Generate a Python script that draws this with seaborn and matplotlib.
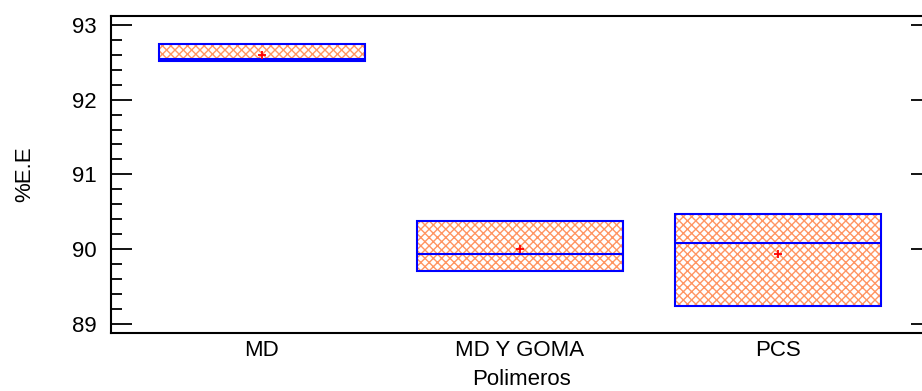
import numpy as np
import pandas as pd
import matplotlib
matplotlib.use("Agg")
import matplotlib.pyplot as plt
from matplotlib.patches import PathPatch
from matplotlib.ticker import MultipleLocator
import seaborn as sns

# ---- data ----
categories = ["MD", "MD Y GOMA", "PCS"]
box_low = [92.52, 89.70, 89.24]      # lower hinge
box_median = [92.545, 89.93, 90.08]  # median
box_high = [92.74, 90.38, 90.47]     # upper hinge
box_mean = [92.60, 90.00, 89.93]     # mean (+ marker)
yticks = [89, 90, 91, 92, 93]

sns.set_style("ticks")
plt.rcParams["font.family"] = ["Liberation Sans", "DejaVu Sans"]
plt.rcParams["hatch.linewidth"] = 1.0
plt.rcParams["text.color"] = "black"
plt.rcParams["axes.labelcolor"] = "black"
plt.rcParams["xtick.color"] = "black"
plt.rcParams["ytick.color"] = "black"

fig = plt.figure(figsize=(9.22, 3.91), dpi=100)
ax = fig.add_axes([111 / 922, 57.7 / 391, 821 / 922, 317.3 / 391])

stats = []
for c, lo, md, hi, mn in zip(categories, box_low, box_median, box_high, box_mean):
    stats.append(dict(label=c, q1=lo, med=md, q3=hi, whislo=lo, whishi=hi,
                      mean=mn, fliers=[]))

pos = np.arange(len(categories))
bp = ax.bxp(stats, positions=pos, widths=0.8, patch_artist=True,
            showcaps=False, showfliers=False, showmeans=False,
            boxprops=dict(facecolor="white", edgecolor="#FF9562", linewidth=0, hatch="xxxx"),
            medianprops=dict(color="#0000FF", linewidth=1.5),
            whiskerprops=dict(color="#0000FF", linewidth=1.5))
for b in bp["boxes"]:
    ax.add_patch(PathPatch(b.get_path(), fill=False, edgecolor="#0000FF",
                           linewidth=1.5, zorder=b.get_zorder() + 0.5))

mean_df = pd.DataFrame({"x": pos, "mean": box_mean})
sns.scatterplot(data=mean_df, x="x", y="mean", marker="+", color="#FF0000",
                s=40, linewidth=1.3, ax=ax, zorder=5, legend=False)

ax.set_xlim(-0.585, 2.597)
ax.set_ylim(88.871, 93.12)
ax.set_xticks(pos)
ax.set_xticklabels(categories)
ax.set_yticks(yticks)
ax.yaxis.set_minor_locator(MultipleLocator(0.2))

ax.tick_params(axis="x", length=0, pad=5, labelsize=16)
ax.tick_params(axis="y", which="major", direction="in", length=15, width=1.3,
               left=True, right=True, pad=10, labelsize=16)
ax.tick_params(axis="y", which="minor", direction="in", length=8, width=1.3,
               left=True, right=False)

for sp in ax.spines.values():
    sp.set_visible(True)
    sp.set_linewidth(1.5)
    sp.set_color("black")

ax.set_xlabel("Polimeros", fontsize=16)
ax.set_ylabel("%E.E", fontsize=16)
ax.xaxis.set_label_coords(0.5, -0.112)
ax.yaxis.set_label_coords(-0.0926, 0.5)

fig.savefig("out.png", dpi=100)
